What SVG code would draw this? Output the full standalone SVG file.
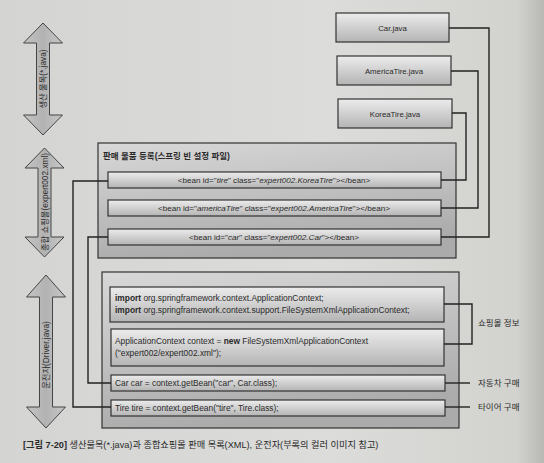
<svg xmlns="http://www.w3.org/2000/svg" width="544" height="463" viewBox="0 0 544 463">
<defs>
<linearGradient id="bg" x1="0" y1="0" x2="1" y2="0">
<stop offset="0" stop-color="#d4d4d2"/><stop offset="0.6" stop-color="#dcdcda"/><stop offset="0.95" stop-color="#d2d2cf"/><stop offset="1" stop-color="#b8b8b5"/>
</linearGradient>
<linearGradient id="box" x1="0" y1="0" x2="0" y2="1">
<stop offset="0" stop-color="#ececec"/><stop offset="1" stop-color="#b4b4b4"/>
</linearGradient>
<linearGradient id="cont" x1="0" y1="0" x2="0.3" y2="1">
<stop offset="0" stop-color="#d8d8d8"/><stop offset="1" stop-color="#ababab"/>
</linearGradient>
<linearGradient id="arr" x1="0" y1="0" x2="1" y2="0">
<stop offset="0" stop-color="#c4c4c4"/><stop offset="0.5" stop-color="#b2b2b2"/><stop offset="1" stop-color="#c8c8c8"/>
</linearGradient>
</defs>
<style>
text{font-family:"Liberation Sans","Noto Sans CJK KR",sans-serif;fill:#2a2a2a}
.box{fill:url(#box);stroke:#333;stroke-width:1.2}
.cont{fill:url(#cont);stroke:#333;stroke-width:1.2}
.arrow{fill:url(#arr);stroke:#444;stroke-width:1}
.t{font-size:7.8px}
.b{font-size:8.1px}
.k{font-size:8.4px}
.c{text-anchor:middle}
.lbl{font-size:8.5px}
.conn{fill:none;stroke:#222;stroke-width:1.4}
</style>
<rect width="544" height="463" fill="url(#bg)"/>

<g id="arrow-java">
<path class="arrow" d="M43,23 L62.5,43 L49.5,43 L49.5,115 L62.5,115 L43,135 L23.5,115 L36.5,115 L36.5,43 L23.5,43 Z"/>
<text class="t c" transform="translate(46,79) rotate(-90)" style="font-size:8.3px">생산 물목(*.java)</text>
</g>
<g id="arrow-xml">
<path class="arrow" d="M44.5,148 L64,168 L51,168 L51,237 L64,237 L44.5,257 L25,237 L38,237 L38,168 L25,168 Z"/>
<text class="t c" transform="translate(47.5,202) rotate(-90)" style="font-size:8.3px">종합 쇼핑몰(expert002.xml)</text>
</g>
<g id="arrow-driver">
<path class="arrow" d="M46,275 L65.5,297 L52.5,297 L52.5,407 L65.5,407 L46,428 L26.5,407 L39.5,407 L39.5,297 L26.5,297 Z"/>
<text class="t c" transform="translate(49,355) rotate(-90)" style="font-size:8.3px">운전자(Driver.java)</text>
</g>

<g id="car-java">
<rect class="box" x="336" y="13" width="113" height="29"/>
<text class="t c" x="392.5" y="30.5">Car.java</text>
</g>
<g id="americatire-java">
<rect class="box" x="337" y="56" width="114" height="29"/>
<text class="t c" x="394" y="73.5">AmericaTire.java</text>
</g>
<g id="koreatire-java">
<rect class="box" x="338" y="99" width="114" height="29"/>
<text class="t c" x="395" y="116.5">KoreaTire.java</text>
</g>

<g id="bean-config">
<rect class="cont" x="98" y="143" width="358" height="115"/>
<text x="103" y="159" style="font-size:8.5px;font-weight:bold">판매 물품 등록(스프링 빈 설정 파일)</text>
</g>
<g id="bean-tire">
<rect class="box" x="108" y="172" width="333" height="16"/>
<text class="b c" x="274" y="183">&lt;bean id="<tspan font-style="italic">tire</tspan>" class="<tspan font-style="italic">expert002.KoreaTire</tspan>"&gt;&lt;/bean&gt;</text>
</g>
<g id="bean-americatire">
<rect class="box" x="108" y="200" width="333" height="16"/>
<text class="b c" x="274" y="211">&lt;bean id="<tspan font-style="italic">americaTire</tspan>" class="<tspan font-style="italic">expert002.AmericaTire</tspan>"&gt;&lt;/bean&gt;</text>
</g>
<g id="bean-car">
<rect class="box" x="108" y="229" width="333" height="16"/>
<text class="b c" x="274" y="240">&lt;bean id="<tspan font-style="italic">car</tspan>" class="<tspan font-style="italic">expert002.Car</tspan>"&gt;&lt;/bean&gt;</text>
</g>

<g id="driver-code">
<rect class="cont" x="102" y="272" width="357" height="156"/>
</g>
<g id="code-import">
<rect class="box" x="110" y="287" width="334" height="35"/>
<text class="k" x="115" y="301"><tspan font-weight="bold">import</tspan> org.springframework.context.ApplicationContext;</text>
<text class="k" x="115" y="313"><tspan font-weight="bold">import</tspan> org.springframework.context.support.FileSystemXmlApplicationContext;</text>
</g>
<g id="code-context">
<rect class="box" x="111" y="329" width="333" height="37"/>
<text class="k" x="115" y="344">ApplicationContext context = <tspan font-weight="bold">new</tspan> FileSystemXmlApplicationContext</text>
<text class="k" x="115" y="356">("expert002/expert002.xml");</text>
</g>
<g id="code-car">
<rect class="box" x="111" y="375" width="334" height="16"/>
<text class="k" x="115" y="386">Car car = context.getBean("car", Car.class);</text>
</g>
<g id="code-tire">
<rect class="box" x="111" y="400" width="334" height="16"/>
<text class="k" x="115" y="411">Tire tire = context.getBean("tire", Tire.class);</text>
</g>

<g id="connectors">
<path class="conn" d="M449,28 H489 V237 H441"/>
<path class="conn" d="M451,71 H478 V208 H441"/>
<path class="conn" d="M452,113 H466 V180 H441"/>
<path class="conn" d="M108,181 H73 V407 H111"/>
<path class="conn" d="M108,237 H88 V383 H111"/>
<path class="conn" d="M444,304 H472 V344 H444"/>
<path class="conn" d="M445,383 H470"/>
<path class="conn" d="M445,407 H470"/>
</g>

<g id="labels">
<text class="lbl" x="478" y="326">쇼핑몰 정보</text>
<text class="lbl" x="478" y="386">자동차 구매</text>
<text class="lbl" x="478" y="410">타이어 구매</text>
</g>

<text x="23" y="448" style="font-size:9.2px"><tspan font-weight="bold">[그림 7-20]</tspan> 생산물목(*.java)과 종합쇼핑몰 판매 목록(XML), 운전자(부록의 컬러 이미지 참고)</text>
</svg>
